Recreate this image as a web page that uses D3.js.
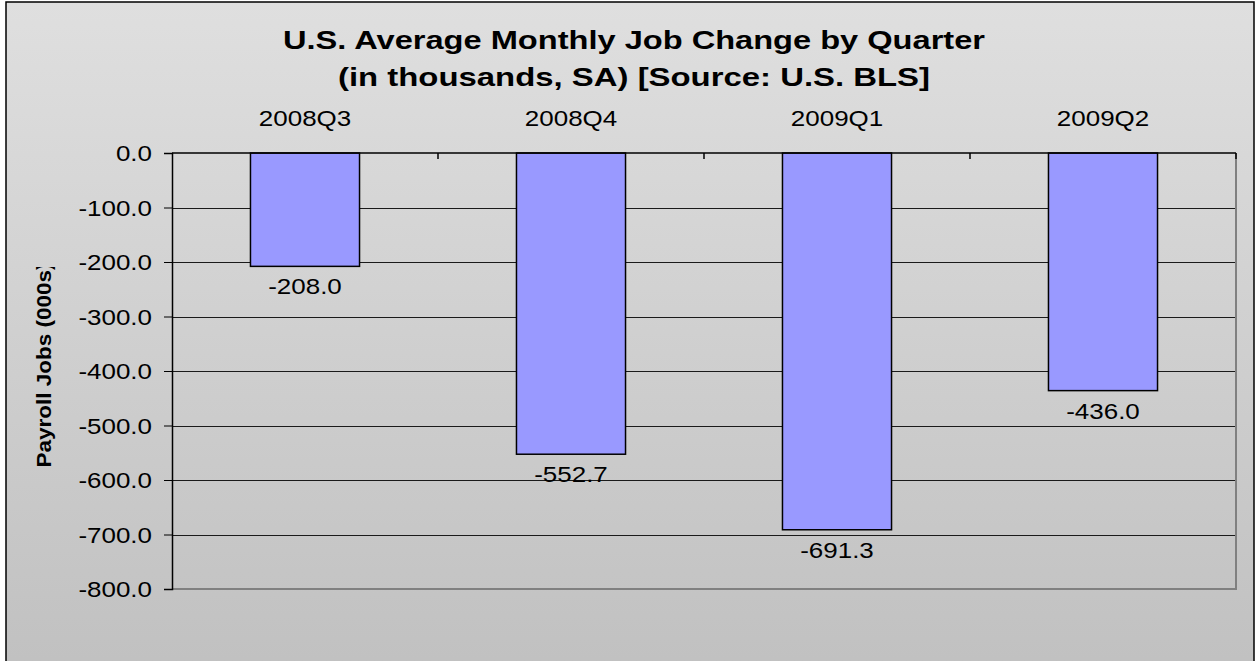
<!DOCTYPE html>
<html><head><meta charset="utf-8">
<script src="https://cdn.jsdelivr.net/npm/d3@7/dist/d3.min.js"></script>
<style>html,body{margin:0;padding:0;background:#fff;overflow:hidden}</style>
</head><body>
<svg id="c" width="1255" height="661"></svg>
<script>
const categories = ["2008Q3", "2008Q4", "2009Q1", "2009Q2"];
const values = [-208.0, -552.7, -691.3, -436.0];
const yTicks = [0, -100, -200, -300, -400, -500, -600, -700, -800];
const titleLines = ["U.S. Average Monthly Job Change by Quarter", "(in thousands, SA) [Source: U.S. BLS]"];
const yTitle = "Payroll Jobs (000s)";

const svg = d3.select("#c");
const font = "Liberation Sans, Arial, sans-serif";
const SX = 1.18;
const FS = 22;
const fmt = d => d.toFixed(1);

const defs = svg.append("defs");
const grad = defs.append("linearGradient").attr("id","bg").attr("x1",0).attr("y1",0).attr("x2",0).attr("y2",1);
grad.append("stop").attr("offset","0%").attr("stop-color","#dfdfdf");
grad.append("stop").attr("offset","100%").attr("stop-color","#c0c0c0");
defs.append("clipPath").attr("id","yclip").append("rect").attr("x",0).attr("y",267).attr("width",120).attr("height",300);

svg.append("rect").attr("x",6).attr("y",2).attr("width",1248).attr("height",680)
  .attr("fill","url(#bg)").attr("stroke","#000").attr("stroke-width",1.5);

const L = 172, R = 1236, T = 153, B = 589;
const x = d3.scaleBand().domain(categories).range([L, R]).paddingInner(0.59).paddingOuter(0.295);
const y = d3.scaleLinear().domain([-800, 0]).range([B, T]);

// gridlines
svg.append("g").selectAll("line").data(yTicks.filter(d => d !== 0 && d !== -800)).join("line")
  .attr("x1", L).attr("x2", R).attr("y1", d => Math.round(y(d)) + 0.5).attr("y2", d => Math.round(y(d)) + 0.5)
  .attr("stroke", "#1a1a1a").attr("stroke-width", 1);

// plot frame right & bottom
svg.append("path").attr("d", `M${R},${T} V${B} H${L}`).attr("fill","none").attr("stroke","#808080").attr("stroke-width",2);

// bars
svg.append("g").selectAll("rect").data(values).join("rect")
  .attr("x", (d,i) => x(categories[i])).attr("width", x.bandwidth())
  .attr("y", y(0)).attr("height", d => y(d) - y(0))
  .attr("fill", "#9999ff").attr("stroke", "#000").attr("stroke-width", 1.5);

// left axis
const ya = d3.axisLeft(y).tickValues(yTicks).tickSize(8).tickPadding(12).tickFormat(fmt);
const gy = svg.append("g").attr("transform", `translate(${L},0)`).call(ya);
gy.select(".domain").attr("stroke","#000").attr("stroke-width",1.5);
gy.selectAll(".tick line").attr("stroke","#000");
gy.selectAll(".tick text").attr("font-family", font).attr("font-size", FS).attr("fill","#000")
  .attr("dy", null).attr("y", 7.5)
  .attr("transform", `scale(${SX},1)`).attr("x", -20 / SX);

// top axis (category boundaries)
const bounds = d3.range(categories.length + 1).map(i => L + i * x.step());
svg.append("line").attr("x1", L).attr("x2", R).attr("y1", T).attr("y2", T).attr("stroke","#000").attr("stroke-width",1.5);
svg.append("g").selectAll("line").data(bounds.slice(1)).join("line")
  .attr("x1", d => d).attr("x2", d => d).attr("y1", T).attr("y2", T + 6).attr("stroke","#000").attr("stroke-width",1.5);

// category labels
svg.append("g").selectAll("text").data(categories).join("text")
  .attr("transform", d => `translate(${x(d) + x.bandwidth()/2},126) scale(${SX},1)`)
  .attr("text-anchor","middle").attr("font-family", font).attr("font-size", FS).text(d => d);

// value labels
svg.append("g").selectAll("text").data(values).join("text")
  .attr("transform", (d,i) => `translate(${x(categories[i]) + x.bandwidth()/2},${y(d) + 28}) scale(${SX},1)`)
  .attr("text-anchor","middle").attr("font-family", font).attr("font-size", FS).text(d => fmt(d));

// title
const tl = [{t: titleLines[0], y: 49, w: 702}, {t: titleLines[1], y: 86, w: 592}];
svg.append("g").selectAll("text").data(tl).join("text")
  .attr("x", 634).attr("y", d => d.y).attr("text-anchor","middle")
  .attr("font-family", font).attr("font-weight","bold").attr("font-size", 25)
  .attr("textLength", d => d.w).attr("lengthAdjust","spacingAndGlyphs").text(d => d.t);

// y title
svg.append("g").attr("clip-path","url(#yclip)").append("text")
  .attr("transform", "translate(51,365) rotate(-90)")
  .attr("text-anchor","middle").attr("font-family", font).attr("font-weight","bold").attr("font-size", 20)
  .attr("textLength", 205).attr("lengthAdjust","spacingAndGlyphs").text(yTitle);
</script>
</body></html>
